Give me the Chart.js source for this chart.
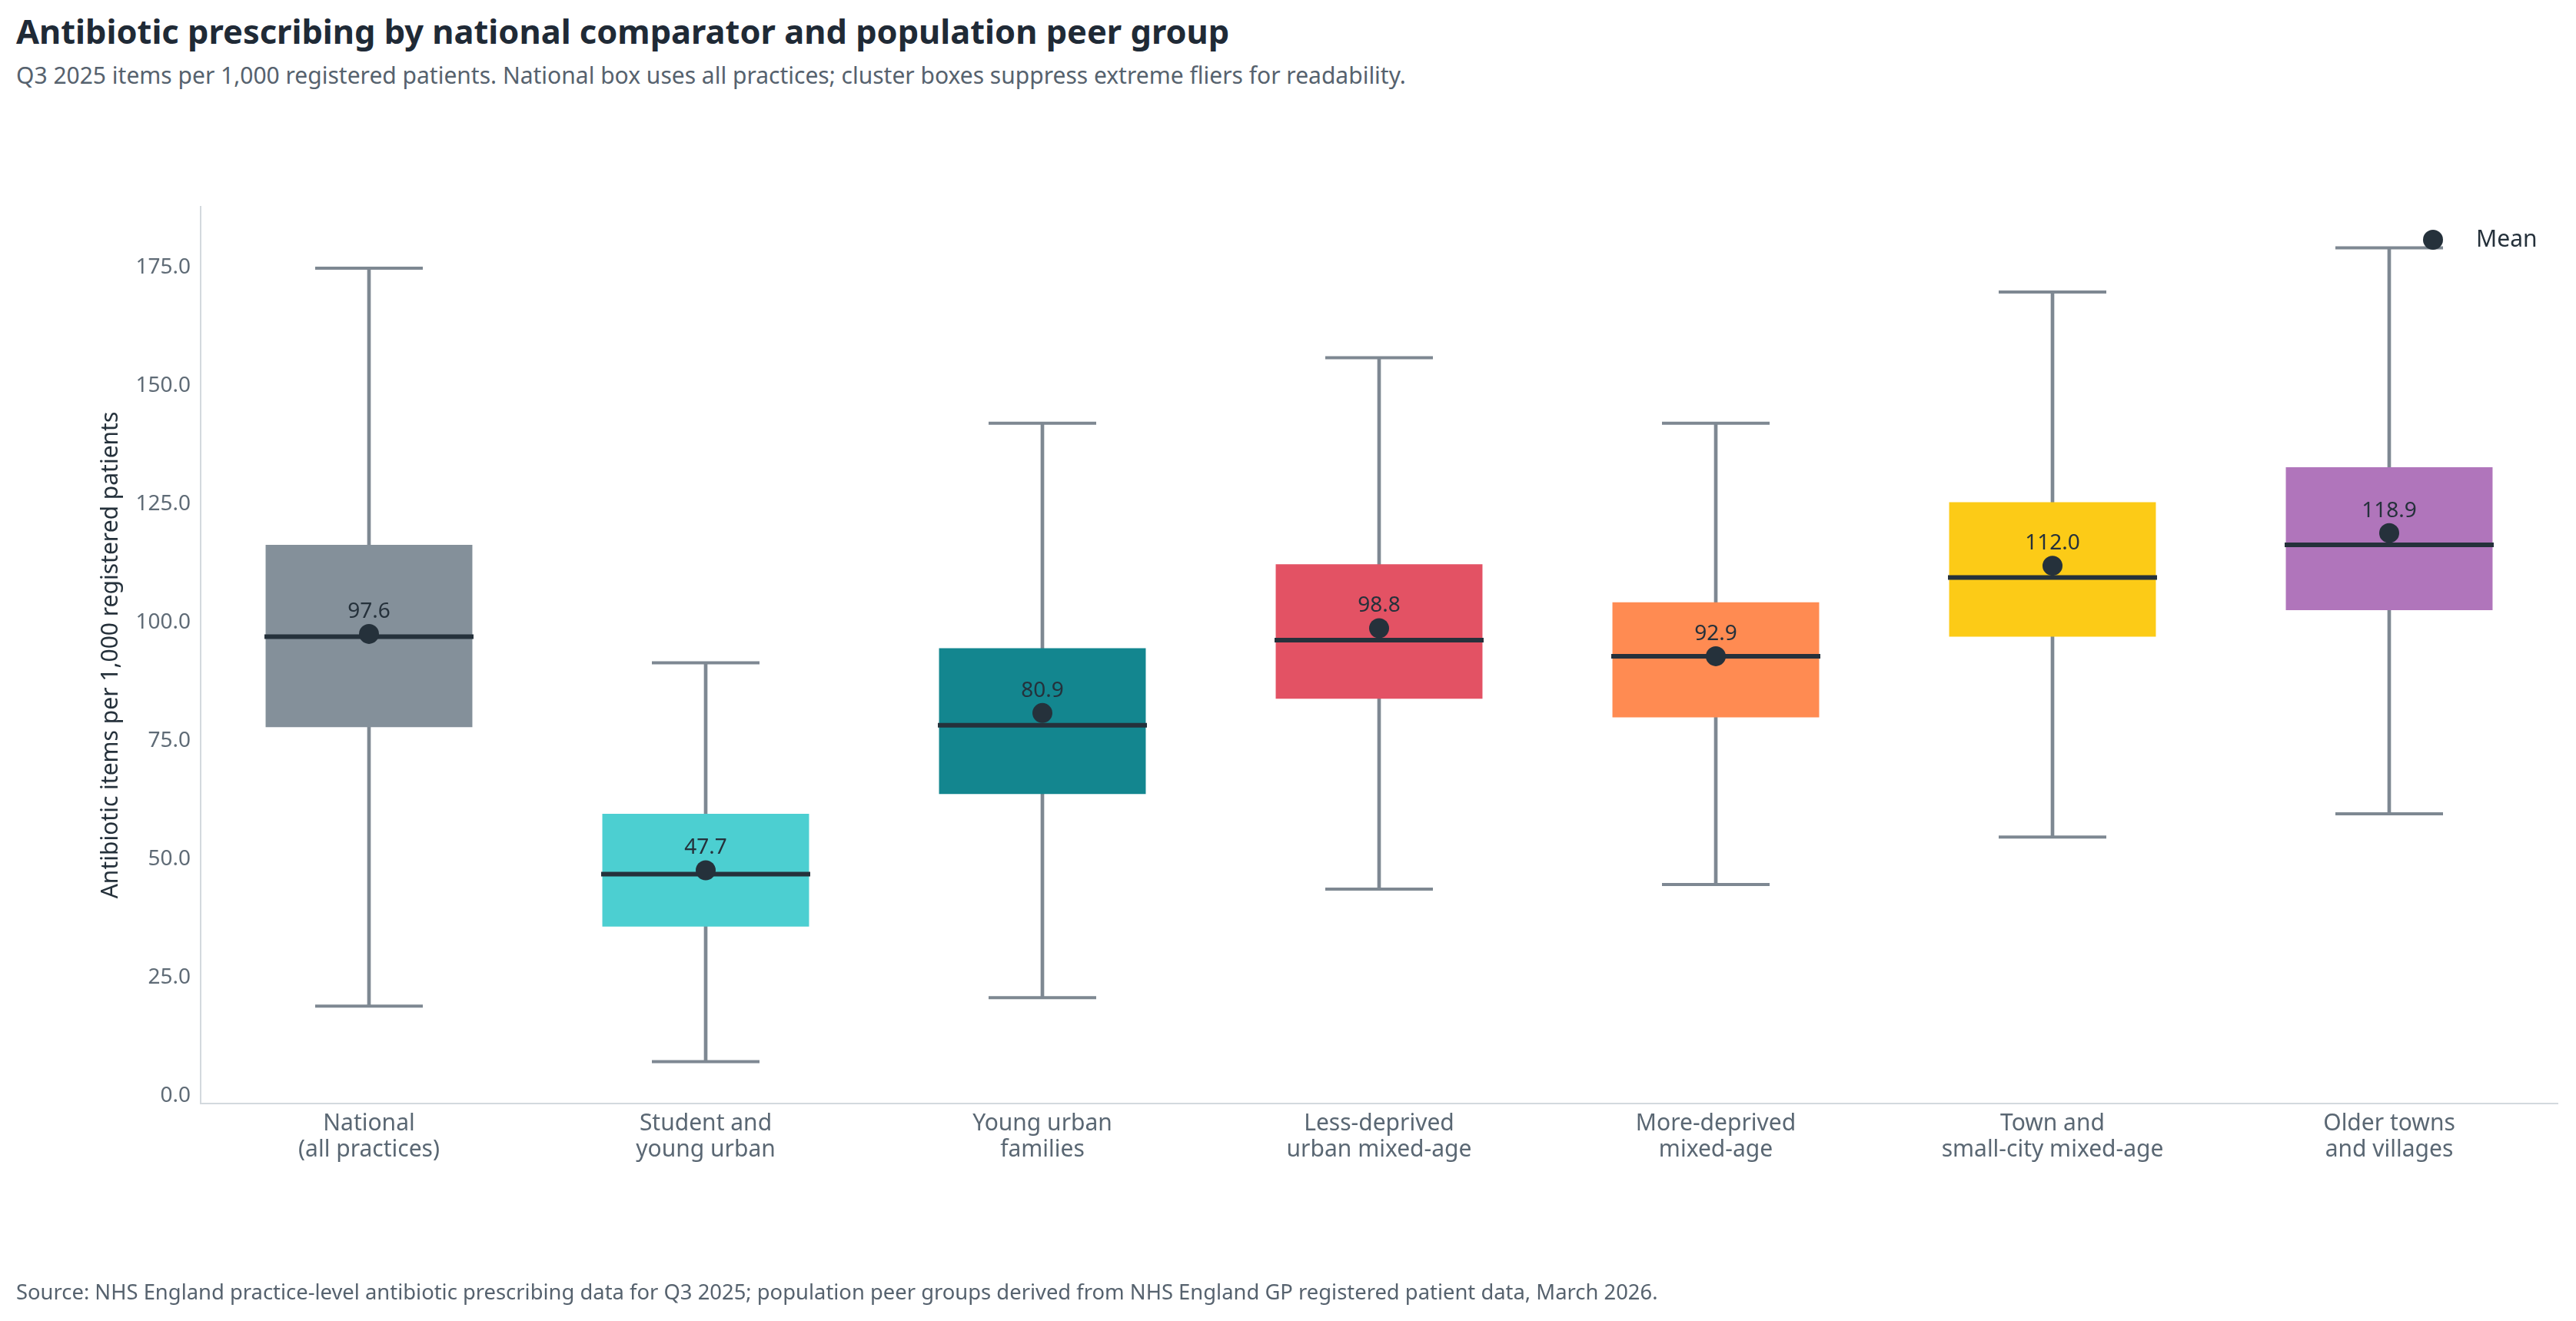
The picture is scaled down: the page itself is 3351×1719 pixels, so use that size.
<!DOCTYPE html>
<html>
<head>
<meta charset="utf-8">
<script src="https://cdn.jsdelivr.net/npm/chart.js@4.4.1/dist/chart.umd.min.js"></script>
<style>
  html, body { margin: 0; padding: 0; background: #ffffff; }
  body { width: 3351px; height: 1719px; position: relative; overflow: hidden; font-family: "Noto Sans", "Open Sans", sans-serif; }
  #title { position: absolute; left: 21px; top: 11px; font-size: 43.4px; font-weight: 700; color: #1f2a36; white-space: nowrap; }
  #subtitle { position: absolute; left: 21px; top: 77px; font-size: 30px; color: #56626e; white-space: nowrap; }
  #source { position: absolute; left: 21px; top: 1662px; font-size: 27.4px; color: #56626e; white-space: nowrap; }
  #chart { position: absolute; left: 0; top: 0; }
</style>
</head>
<body>
<div id="title">Antibiotic prescribing by national comparator and population peer group</div>
<div id="subtitle">Q3 2025 items per 1,000 registered patients. National box uses all practices; cluster boxes suppress extreme fliers for readability.</div>
<canvas id="chart" width="3351" height="1719"></canvas>
<div id="source">Source: NHS England practice-level antibiotic prescribing data for Q3 2025; population peer groups derived from NHS England GP registered patient data, March 2026.</div>
<script>
const categories = [
  ["National", "(all practices)"],
  ["Student and", "young urban"],
  ["Young urban", "families"],
  ["Less-deprived", "urban mixed-age"],
  ["More-deprived", "mixed-age"],
  ["Town and", "small-city mixed-age"],
  ["Older towns", "and villages"]
];
const whiskerLow  = [19.0, 7.3, 20.8, 43.7, 44.7, 54.7, 59.6];
const q1Values    = [77.9, 35.8, 63.8, 83.9, 80.0, 97.0, 102.6];
const medianValues= [97.0, 46.9, 78.3, 96.3, 92.9, 109.5, 116.4];
const q3Values    = [116.4, 59.6, 94.6, 112.3, 104.3, 125.4, 132.8];
const whiskerHigh = [174.8, 91.5, 142.1, 155.9, 142.1, 169.8, 179.1];
const meanValues  = [97.6, 47.7, 80.9, 98.8, 92.9, 112.0, 118.9];
const yTicks      = [0, 25, 50, 75, 100, 125, 150, 175];

const boxColors = ["#84909a", "#4ccfd1", "#13868f", "#e35264", "#ff8b52", "#fccb17", "#b075bb"];
const whiskerColor = "#7e8892";
const darkColor = "#25313b";
const FONT = '"Noto Sans", sans-serif';

const meanLabelPlugin = {
  id: 'meanLabels',
  afterDatasetsDraw(chart) {
    const idx = chart.data.datasets.findIndex(d => d.label === 'Mean');
    const meta = chart.getDatasetMeta(idx);
    const ctx = chart.ctx;
    ctx.save();
    ctx.font = '28px ' + FONT;
    ctx.fillStyle = darkColor;
    ctx.textAlign = 'center';
    ctx.textBaseline = 'bottom';
    meta.data.forEach((el, i) => {
      ctx.fillText(meanValues[i].toFixed(1), el.x, el.y - 15);
    });
    ctx.restore();
  }
};

const meanLegendPlugin = {
  id: 'meanLegend',
  afterDraw(chart) {
    const ds = chart.data.datasets.find(d => d.label === 'Mean');
    const area = chart.chartArea;
    const ctx = chart.ctx;
    const cx = area.right - 162;
    const cy = area.top + 43;
    ctx.save();
    ctx.fillStyle = ds.backgroundColor;
    ctx.beginPath();
    ctx.arc(cx, cy, ds.pointRadius, 0, Math.PI * 2);
    ctx.fill();
    ctx.font = '30px ' + FONT;
    ctx.fillStyle = darkColor;
    ctx.textAlign = 'left';
    ctx.textBaseline = 'middle';
    ctx.fillText(ds.label, cx + 56, cy);
    ctx.restore();
  }
};

new Chart(document.getElementById('chart'), {
  type: 'bar',
  data: {
    labels: categories,
    datasets: [
      {
        label: 'Whisker',
        data: whiskerLow.map((v, i) => [v, whiskerHigh[i]]),
        backgroundColor: whiskerColor,
        barThickness: 4,
        grouped: false,
        order: 10
      },
      {
        label: 'Box',
        data: q1Values.map((v, i) => [v, q3Values[i]]),
        backgroundColor: boxColors,
        borderWidth: 0,
        barPercentage: 0.614,
        categoryPercentage: 1,
        grouped: false,
        order: 9
      },
      {
        label: 'Cap high',
        type: 'line', showLine: false,
        data: whiskerHigh,
        pointStyle: 'line', pointRadius: 70, pointHoverRadius: 70,
        borderColor: whiskerColor, pointBorderWidth: 4, pointHoverBorderWidth: 4,
        order: 8
      },
      {
        label: 'Cap low',
        type: 'line', showLine: false,
        data: whiskerLow,
        pointStyle: 'line', pointRadius: 70, pointHoverRadius: 70,
        borderColor: whiskerColor, pointBorderWidth: 4, pointHoverBorderWidth: 4,
        order: 7
      },
      {
        label: 'Median',
        type: 'line', showLine: false,
        data: medianValues,
        pointStyle: 'line', pointRadius: 136, pointHoverRadius: 136,
        borderColor: darkColor, pointBorderWidth: 6, pointHoverBorderWidth: 6,
        order: 6
      },
      {
        label: 'Mean',
        type: 'line', showLine: false,
        data: meanValues,
        pointStyle: 'circle', pointRadius: 13, pointHoverRadius: 13,
        backgroundColor: darkColor, borderColor: darkColor,
        pointBorderWidth: 0, pointHoverBorderWidth: 0,
        order: 1
      }
    ]
  },
  options: {
    responsive: false,
    animation: false,
    devicePixelRatio: 1,
    events: [],
    layout: { autoPadding: false, padding: { top: 269, right: 24, bottom: 173, left: 122 } },
    plugins: {
      title: { display: false },
      tooltip: { enabled: false },
      legend: { display: false }
    },
    scales: {
      x: {
        type: 'category',
        offset: true,
        grid: { display: false, drawTicks: false },
        border: { display: true, color: '#d3d9de', width: 2 },
        ticks: {
          color: '#5a6773',
          padding: 9,
          maxRotation: 0,
          autoSkip: false,
          font: { family: FONT, size: 30, lineHeight: 1.15 }
        },
        afterFit(scale) { scale.height = 110; }
      },
      y: {
        type: 'linear',
        min: -1.55,
        max: 187.8,
        grid: { display: false, drawTicks: false },
        border: { display: true, color: '#d3d9de', width: 2 },
        afterBuildTicks(scale) { scale.ticks = yTicks.map(v => ({ value: v })); },
        ticks: {
          color: '#5f6b76',
          padding: 13,
          font: { family: FONT, size: 28 },
          callback: (v) => Number(v).toFixed(1)
        },
        title: {
          display: true,
          text: 'Antibiotic items per 1,000 registered patients',
          color: darkColor,
          font: { family: FONT, size: 30 }
        },
        afterFit(scale) { scale.width = 139; }
      }
    }
  },
  plugins: [meanLabelPlugin, meanLegendPlugin]
});
</script>
</body>
</html>
